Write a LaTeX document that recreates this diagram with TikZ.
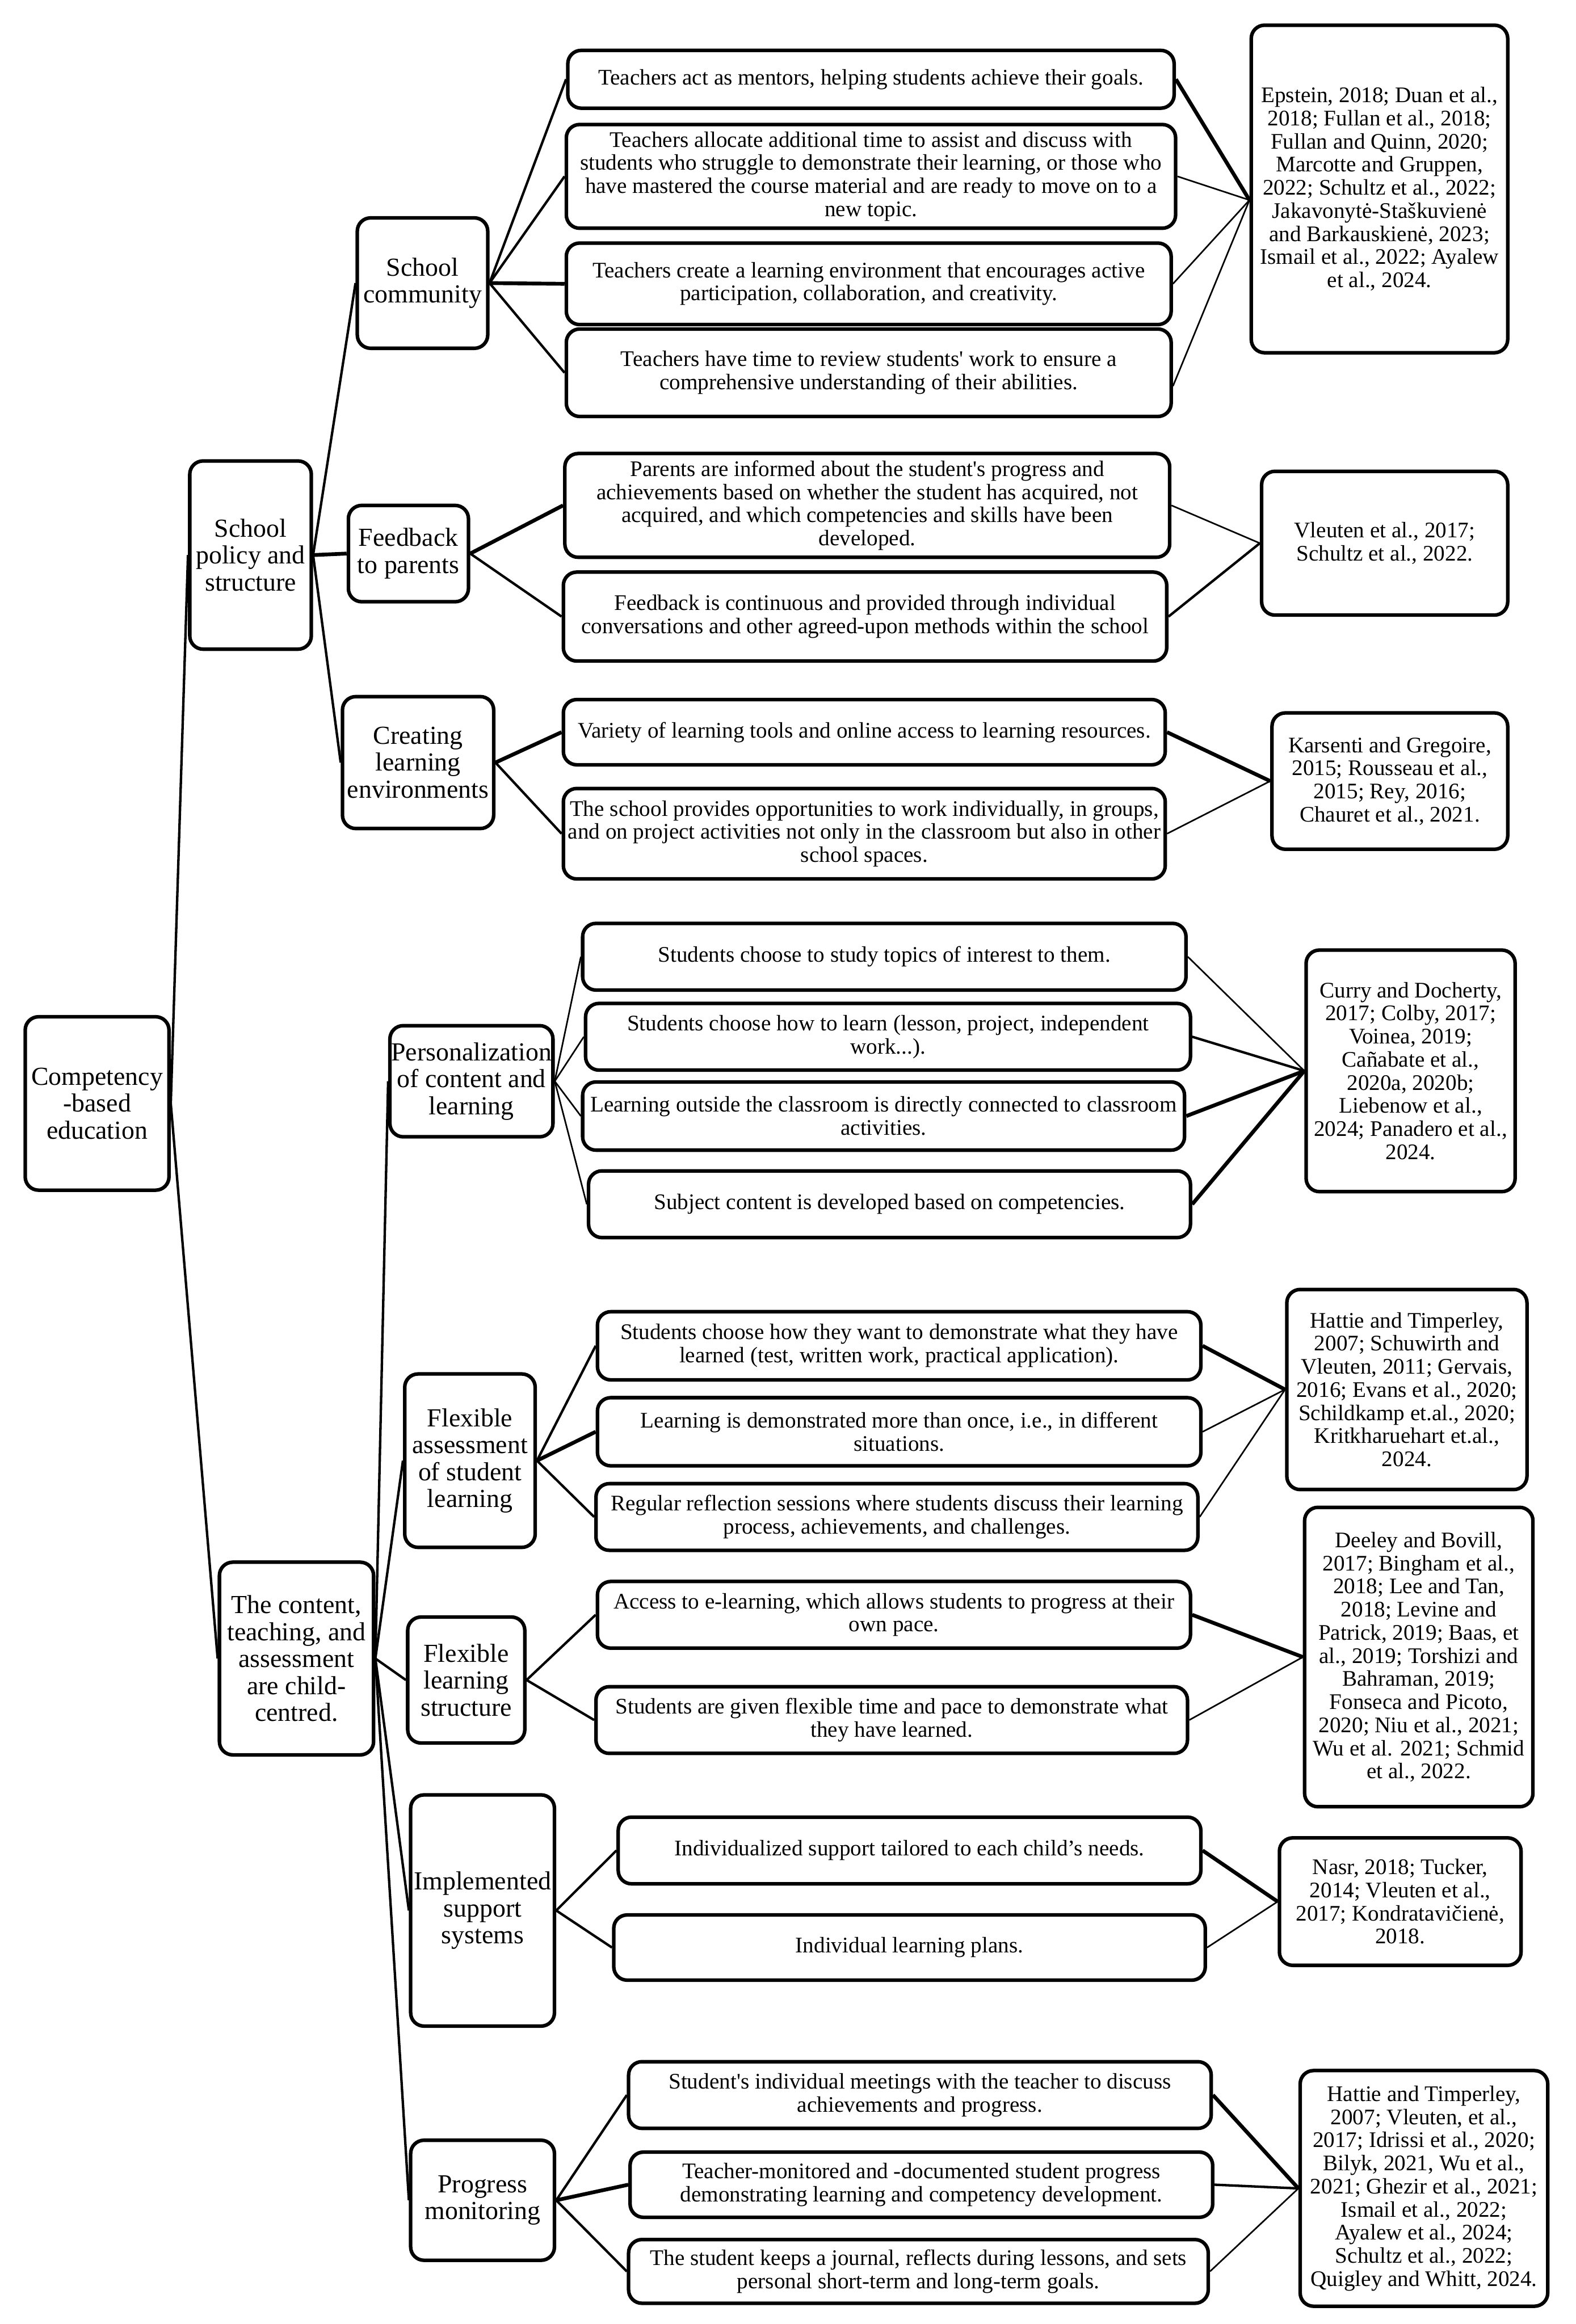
\documentclass[tikz,border=0pt]{standalone}
\usepackage{fontspec}
\setmainfont{Liberation Serif}
\font\sqfont="Liberation Serif" at 10pt
\newcommand\sq{{\sqfont\char"27}}
\newcommand\leaffont{\fontsize{10}{10.4}\selectfont}
\newcommand\midfont{\fontsize{11.7}{12.1}\selectfont}
\newcommand\bx[7]{\node[#1, minimum width={(#4-#3)*0.6667pt}, minimum height={(#6-#5)*0.6667pt}] (#2) at ({(#3+#4)/2},{(#5+#6)/2}) {#7};}
\tikzset{
  box/.style={draw, line width=1.6pt, rounded corners=6pt, align=center, inner sep=0pt, font=\leaffont},
  midbox/.style={box, font=\midfont},
  citebox/.style={box, font=\leaffont},
  ln/.style={line width=1.1pt},
  lnthick/.style={line width=1.7pt},
  lnthin/.style={line width=0.7pt}
}
\begin{document}
\begin{tikzpicture}[x=0.6667pt, y=-0.6667pt]
\useasboundingbox (0,0) rectangle (1063,1568);
% level 0 / 1 / 2
\bx{midbox}{root}{17}{114}{686}{803}{Competency\\-based\\education}
\bx{midbox}{SP}{128}{210}{311}{438}{School\\policy and\\structure}
\bx{midbox}{CT}{148}{252}{1054}{1184}{The content,\\teaching, and\\assessment\\are child-\\centred.}
\bx{midbox}{SC}{241}{329}{147}{235}{School\\community}
\bx{midbox}{FP}{235}{316}{341}{406}{Feedback\\to parents}
\bx{midbox}{CLE}{231}{333}{470}{559}{Creating\\learning\\environments}
\bx{midbox}{PCL}{263}{373}{692}{767}{Personalization\\of content and\\learning}
\bx{midbox}{FA}{273}{361}{927}{1044}{Flexible\\assessment\\of student\\learning}
\bx{midbox}{FLS}{275}{354}{1091}{1176}{Flexible\\learning\\structure}
\bx{midbox}{ISS}{277}{374}{1211}{1367}{Implemented\\support\\systems}
\bx{midbox}{PM}{277}{374}{1444}{1525}{Progress\\monitoring}
% leaves
\bx{box}{L1}{383}{792}{34}{73}{Teachers act as mentors, helping students achieve their goals.}
\bx{box}{L2}{382}{793}{84}{154}{Teachers allocate additional time to assist and discuss with\\students who struggle to demonstrate their learning, or those who\\have mastered the course material and are ready to move on to a\\new topic.}
\bx{box}{L3}{382}{790}{164}{219}{Teachers create a learning environment that encourages active\\participation, collaboration, and creativity.}
\bx{box}{L4}{382}{790}{222}{281}{Teachers have time to review students\sq\ work to ensure a\\comprehensive understanding of their abilities.}
\bx{box}{L5}{381}{789}{306}{376}{Parents are informed about the student\sq s progress and\\achievements based on whether the student has acquired, not\\acquired, and which competencies and skills have been\\developed.}
\bx{box}{L6}{380}{787}{386}{446}{Feedback is continuous and provided through individual\\conversations and other agreed-upon methods within the school}
\bx{box}{L7}{380}{786}{472}{516}{Variety of learning tools and online access to learning resources.}
\bx{box}{L8}{380}{786}{532}{593}{The school provides opportunities to work individually, in groups,\\and on project activities not only in the classroom but also in other\\school spaces.}
\bx{box}{L9}{393}{800}{623}{668}{Students choose to study topics of interest to them.}
\bx{box}{L10}{395}{803}{677}{722}{Students choose how to learn (lesson, project, independent\\work...).}
\bx{box}{L11}{393}{799}{730}{776}{Learning outside the classroom is directly connected to classroom\\activities.}
\bx{box}{L12}{397}{803}{790}{835}{Subject content is developed based on competencies.}
\bx{box}{L13}{403}{810}{885}{931}{Students choose how they want to demonstrate what they have\\learned (test, written work, practical application).}
\bx{box}{L14}{403}{810}{943}{989}{Learning is demonstrated more than once, i.e., in different\\situations.}
\bx{box}{L15}{402}{808}{1001}{1046}{Regular reflection sessions where students discuss their learning\\process, achievements, and challenges.}
\bx{box}{L16}{403}{803}{1067}{1112}{Access to e-learning, which allows students to progress at their\\own pace.}
\bx{box}{L17}{402}{801}{1138}{1183}{Students are given flexible time and pace to demonstrate what\\they have learned.}
\bx{box}{L18}{417}{810}{1226}{1271}{Individualized support tailored to each child’s needs.}
\bx{box}{L19}{414}{813}{1292}{1336}{Individual learning plans.}
\bx{box}{L20}{424}{817}{1391}{1436}{Student\sq s individual meetings with the teacher to discuss\\achievements and progress.}
\bx{box}{L21}{425}{818}{1452}{1496}{Teacher-monitored and -documented student progress\\demonstrating learning and competency development.}
\bx{box}{L22}{424}{815}{1511}{1554}{The student keeps a journal, reflects during lessons, and sets\\personal short-term and long-term goals.}
% citations
\bx{citebox}{C1}{844}{1017}{17}{238}{Epstein, 2018; Duan et al.,\\2018; Fullan et al., 2018;\\Fullan and Quinn, 2020;\\Marcotte and Gruppen,\\2022; Schultz et al., 2022;\\Jakavonytė-Staškuvienė\\and Barkauskienė, 2023;\\Ismail et al., 2022; Ayalew\\et al., 2024.}
\bx{citebox}{C2}{851}{1017}{318}{415}{Vleuten et al., 2017;\\Schultz et al., 2022.}
\bx{citebox}{C3}{858}{1017}{481}{573}{Karsenti and Gregoire,\\2015; Rousseau et al.,\\2015; Rey, 2016;\\Chauret et al., 2021.}
\bx{citebox}{C4}{881}{1022}{641}{804}{Curry and Docherty,\\2017; Colby, 2017;\\Voinea, 2019;\\Cañabate et al.,\\2020a, 2020b;\\Liebenow et al.,\\2024; Panadero et al.,\\2024.}
\bx{citebox}{C5}{868}{1030}{870}{1005}{Hattie and Timperley,\\2007; Schuwirth and\\Vleuten, 2011; Gervais,\\2016; Evans et al., 2020;\\Schildkamp et.al., 2020;\\Kritkharuehart et.al.,\\2024.}
\bx{citebox}{C6}{880}{1034}{1017}{1219}{Deeley and Bovill,\\2017; Bingham et al.,\\2018; Lee and Tan,\\2018; Levine and\\Patrick, 2019; Baas, et\\al., 2019; Torshizi and\\Bahraman, 2019;\\Fonseca and Picoto,\\2020; Niu et al., 2021;\\Wu et al. 2021; Schmid\\et al., 2022.}
\bx{citebox}{C7}{863}{1026}{1240}{1326}{Nasr, 2018; Tucker,\\2014; Vleuten et al.,\\2017; Kondratavičienė,\\2018.}
\bx{citebox}{C8}{877}{1044}{1397}{1556}{Hattie and Timperley,\\2007; Vleuten, et al.,\\2017; Idrissi et al., 2020;\\Bilyk, 2021, Wu et al.,\\2021; Ghezir et al., 2021;\\Ismail et al., 2022;\\Ayalew et al., 2024;\\Schultz et al., 2022;\\Quigley and Whitt, 2024.}
% left connectors
\draw[ln] (root.east) -- (SP.west);
\draw[ln] (root.east) -- (CT.west);
\draw[ln] (SP.east) -- (SC.west);
\draw[lnthick] (SP.east) -- (FP.west);
\draw[ln] (SP.east) -- (CLE.west);
\draw[ln] (SC.east) -- (L1.west);
\draw[ln] (SC.east) -- (L2.west);
\draw[lnthick] (SC.east) -- (L3.west);
\draw[ln] (SC.east) -- (L4.west);
\draw[lnthick] (FP.east) -- (L5.west);
\draw[ln] (FP.east) -- (L6.west);
\draw[lnthick] (CLE.east) -- (L7.west);
\draw[ln] (CLE.east) -- (L8.west);
\draw[ln] (CT.east) -- (PCL.west);
\draw[ln] (CT.east) -- (FA.west);
\draw[ln] (CT.east) -- (FLS.west);
\draw[ln] (CT.east) -- (ISS.west);
\draw[ln] (CT.east) -- (PM.west);
\draw[lnthin] (PCL.east) -- (L9.west);
\draw[lnthin] (PCL.east) -- (L10.west);
\draw[lnthin] (PCL.east) -- (L11.west);
\draw[lnthin] (PCL.east) -- (L12.west);
\draw[ln] (FA.east) -- (L13.west);
\draw[lnthick] (FA.east) -- (L14.west);
\draw[ln] (FA.east) -- (L15.west);
\draw[ln] (FLS.east) -- (L16.west);
\draw[ln] (FLS.east) -- (L17.west);
\draw[ln] (ISS.east) -- (L18.west);
\draw[ln] (ISS.east) -- (L19.west);
\draw[ln] (PM.east) -- (L20.west);
\draw[lnthick] (PM.east) -- (L21.west);
\draw[ln] (PM.east) -- (L22.west);
% right connectors
\draw[lnthick] (L1.east) -- ([yshift=-5pt]C1.west);
\draw[lnthin] (L2.east) -- ([yshift=-5pt]C1.west);
\draw[lnthin] (L3.east) -- ([yshift=-5pt]C1.west);
\draw[lnthin] ([yshift=-6pt]L4.east) -- ([yshift=-5pt]C1.west);
\draw[lnthin] (L5.east) -- (C2.west);
\draw[ln] (L6.east) -- (C2.west);
\draw[lnthick] (L7.east) -- (C3.west);
\draw[lnthin] (L8.east) -- (C3.west);
\draw[lnthin] (L9.east) -- (C4.west);
\draw[ln] (L10.east) -- (C4.west);
\draw[lnthick] (L11.east) -- (C4.west);
\draw[lnthick] (L12.east) -- (C4.west);
\draw[lnthick] (L13.east) -- (C5.west);
\draw[lnthin] (L14.east) -- (C5.west);
\draw[lnthin] (L15.east) -- (C5.west);
\draw[lnthick] (L16.east) -- (C6.west);
\draw[lnthin] (L17.east) -- (C6.west);
\draw[lnthick] (L18.east) -- (C7.west);
\draw[lnthin] (L19.east) -- (C7.west);
\draw[lnthick] (L20.east) -- (C8.west);
\draw[ln] (L21.east) -- (C8.west);
\draw[lnthin] (L22.east) -- (C8.west);
\end{tikzpicture}
\end{document}
